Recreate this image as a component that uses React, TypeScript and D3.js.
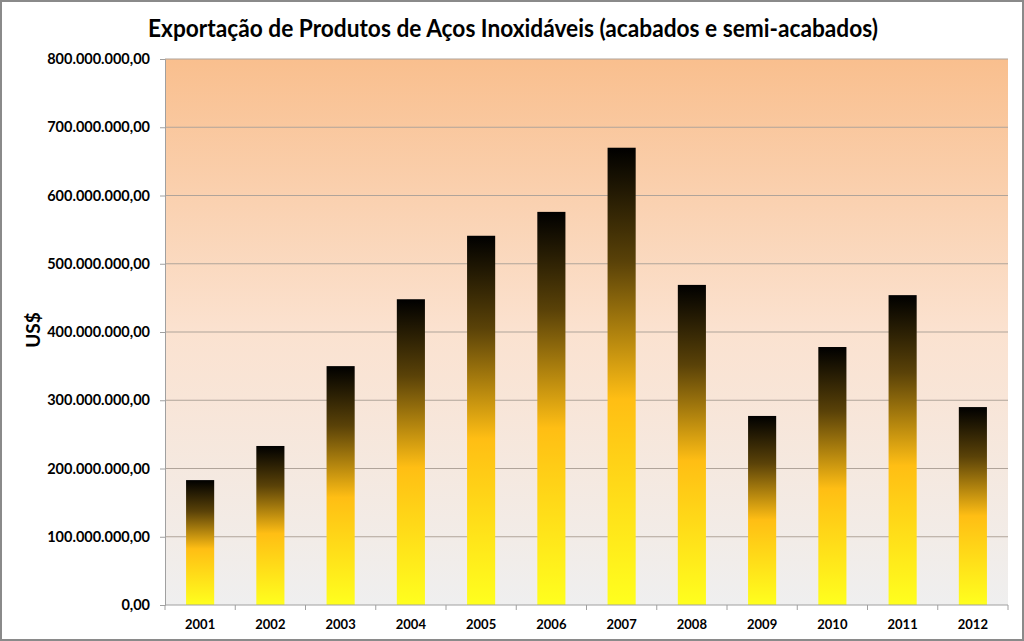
import React, { useEffect, useRef } from 'react';
import * as d3 from 'd3';

const years = ['2001', '2002', '2003', '2004', '2005', '2006', '2007', '2008', '2009', '2010', '2011', '2012'];
const exportValues = [183e6, 233e6, 350e6, 448e6, 541e6, 576e6, 670e6, 469e6, 277e6, 378e6, 454e6, 290e6];
const yTicks = [0, 100e6, 200e6, 300e6, 400e6, 500e6, 600e6, 700e6, 800e6];

const fmt = (v: number) => {
  const s = Math.round(v).toString().replace(/\B(?=(\d{3})+(?!\d))/g, '.');
  return s + ',00';
};

const App = () => {
  const ref = useRef<SVGSVGElement | null>(null);

  useEffect(() => {
    if (!ref.current) return;
    const svg = d3.select(ref.current);
    svg.selectAll('*').remove();

    const width = 1024;
    const height = 641;
    const margin = { top: 59, right: 16, bottom: 36, left: 165 };
    const innerW = width - margin.left - margin.right;
    const innerH = height - margin.top - margin.bottom;
    const font = 'Lato, "Open Sans", sans-serif';

    const defs = svg.append('defs');
    const bg = defs.append('linearGradient').attr('id', 'bgGrad')
      .attr('x1', 0).attr('y1', 0).attr('x2', 0).attr('y2', 1);
    bg.append('stop').attr('offset', '0%').attr('stop-color', '#f9bf8e');
    bg.append('stop').attr('offset', '50%').attr('stop-color', '#fbe2d0');
    bg.append('stop').attr('offset', '100%').attr('stop-color', '#efefef');

    const barGrad = defs.append('linearGradient').attr('id', 'barGrad')
      .attr('x1', 0).attr('y1', 0).attr('x2', 0).attr('y2', 1);
    barGrad.append('stop').attr('offset', '0%').attr('stop-color', '#000000');
    barGrad.append('stop').attr('offset', '25%').attr('stop-color', '#5a4208');
    barGrad.append('stop').attr('offset', '55%').attr('stop-color', '#ffbe14');
    barGrad.append('stop').attr('offset', '100%').attr('stop-color', '#ffff1e');

    svg.append('rect').attr('width', width).attr('height', height).attr('fill', '#ffffff');
    svg.append('rect')
      .attr('x', 1).attr('y', 1).attr('width', width - 2).attr('height', height - 2)
      .attr('fill', 'none').attr('stroke', '#8a8a8a').attr('stroke-width', 2);

    const x = d3.scaleBand().domain(years).range([0, innerW]).paddingInner(0.6).paddingOuter(0.3);
    const y = d3.scaleLinear().domain([0, 800e6]).range([innerH, 0]);

    const g = svg.append('g').attr('transform', `translate(${margin.left},${margin.top})`);

    g.append('rect').attr('width', innerW).attr('height', innerH).attr('fill', 'url(#bgGrad)');

    g.selectAll('.grid').data(yTicks.slice(1)).enter().append('line')
      .attr('x1', 0).attr('x2', innerW)
      .attr('y1', d => y(d)).attr('y2', d => y(d))
      .attr('stroke', '#b0a49a').attr('stroke-width', 1.2);

    g.selectAll('.bar').data(exportValues).enter().append('rect')
      .attr('x', (d, i) => x(years[i]) as number)
      .attr('y', d => y(d))
      .attr('width', x.bandwidth())
      .attr('height', d => innerH - y(d))
      .attr('fill', 'url(#barGrad)');

    const yAxis = g.append('g')
      .call(d3.axisLeft(y).tickValues(yTicks).tickFormat(d => fmt(d as number)).tickSize(5).tickPadding(10));
    yAxis.select('.domain').attr('stroke', '#a0a0a0');
    yAxis.selectAll('.tick line').attr('stroke', '#a0a0a0');
    yAxis.selectAll('text')
      .attr('font-family', font).attr('font-weight', 'bold').attr('font-size', 14.5).attr('fill', '#000');

    const xAxis = g.append('g').attr('transform', `translate(0,${innerH})`);
    xAxis.append('line').attr('x1', 0).attr('x2', innerW).attr('stroke', '#a0a0a0');
    const bounds = d3.range(years.length + 1).map(i => i * innerW / years.length);
    xAxis.selectAll('.xt').data(bounds).enter().append('line')
      .attr('x1', d => d).attr('x2', d => d).attr('y1', 0).attr('y2', 5)
      .attr('stroke', '#a0a0a0');
    xAxis.selectAll('.xl').data(years).enter().append('text')
      .attr('x', d => (x(d) as number) + x.bandwidth() / 2)
      .attr('y', 24)
      .attr('text-anchor', 'middle')
      .attr('font-family', font).attr('font-weight', 'bold').attr('font-size', 13)
      .text(d => d);

    svg.append('text')
      .attr('x', 513).attr('y', 37)
      .attr('text-anchor', 'middle')
      .attr('font-family', font).attr('font-weight', 'bold').attr('font-size', 24)
      .attr('textLength', 730).attr('lengthAdjust', 'spacingAndGlyphs')
      .text('Exportação de Produtos de Aços Inoxidáveis (acabados e semi-acabados)');

    svg.append('text')
      .attr('transform', 'translate(40,330) rotate(-90)')
      .attr('text-anchor', 'middle')
      .attr('font-family', font).attr('font-weight', 'bold').attr('font-size', 19)
      .text('US$');
  }, []);

  return (
    <div style={{ position: 'fixed', left: 0, top: 0 }}>
      <svg ref={ref} width={1024} height={641} style={{ display: 'block' }} />
    </div>
  );
};

export default App;
